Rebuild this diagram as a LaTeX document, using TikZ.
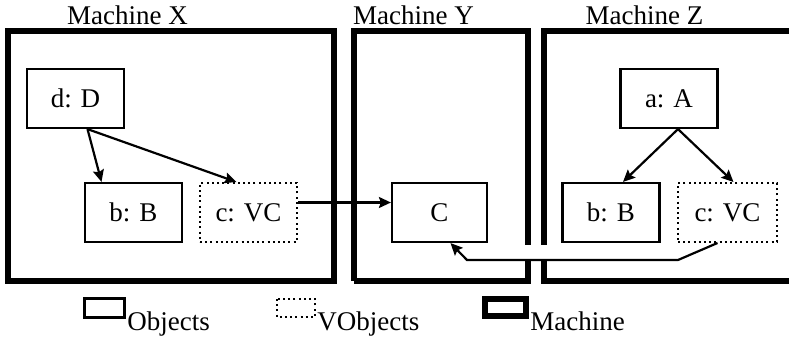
\documentclass[tikz,border=0pt]{standalone}
\usepackage{fontspec}
\setmainfont{Liberation Serif}
\usetikzlibrary{arrows.meta}
\begin{document}
\begin{tikzpicture}[x=0.5pt,y=-0.5pt,
  font=\fontsize{13.5pt}{15pt}\selectfont,
  obj/.style={draw, line width=1.1pt, minimum width=48.5pt, minimum height=29.5pt, inner sep=0pt},
  vobj/.style={obj, line width=1pt, dash pattern=on 1pt off 1.6pt},
  mach/.style={line width=2.6pt},
  conn/.style={line width=1.1pt, -{Stealth[length=6pt,width=5.5pt,inset=1pt]}},
  title/.style={anchor=base, inner sep=0pt},
  legtext/.style={anchor=base west, inner sep=0pt}]
\useasboundingbox (0,0) rectangle (789,337);
% machines
\draw[mach] (8,281) -- (8,31) -- (334,31) -- (334,281) -- cycle;
\draw[mach] (354,281) -- (354,31) -- (528,31) -- (528,245);
\draw[mach] (528,259) -- (528,281) -- (354,281);
\draw[mach] (795,31) -- (544,31) -- (544,245);
\draw[mach] (544,259) -- (544,281) -- (795,281);
\node[title] (tx) at (127.5,25) {Machine X};
\node[title] (ty) at (413.5,25) {Machine Y};
\node[title] (tz) at (644.5,25) {Machine Z};
% objects
\node[obj] (d) at (75.5,98.5) {d: D};
\node[obj] (bx) at (133.5,212.5) {b: B};
\node[vobj] (cx) at (248.5,212.5) {c: VC};
\node[obj, minimum width=47.5pt] (C) at (439.5,212.5) {C};
\node[obj] (a) at (669,98.5) {a: A};
\node[obj] (bz) at (611,212.5) {b: B};
\node[vobj, minimum width=49.5pt] (cz) at (727.5,212.5) {c: VC};
% connectors
\draw[conn] ([xshift=6pt]d.south) -- ([xshift=-16pt]bx.north);
\draw[conn] ([xshift=6pt]d.south) -- ([xshift=-6pt]cx.north);
\draw[conn] ([yshift=5pt]cx.east) -- ([yshift=5pt]C.west);
\draw[conn] ([xshift=4.5pt]a.south) -- ([xshift=6pt]bz.north);
\draw[conn] ([xshift=4.5pt]a.south) -- ([xshift=3pt]cz.north);
\coordinate (k1) at (678,260);
\coordinate (k2) at (467,260);
\draw[conn] ([xshift=-5pt]cz.south) -- (k1) -- (k2) -- ([xshift=5.5pt]C.south);
% legend
\draw[line width=1.5pt] (84,298) rectangle (124,317);
\node[legtext] (lo) at (127,330) {Objects};
\draw[line width=1pt, dash pattern=on 1pt off 1.6pt] (277,299) rectangle (315,317);
\node[legtext] (lv) at (317,330) {VObjects};
\draw[line width=3pt] (485,299) rectangle (526,316);
\node[legtext] (lm) at (530,330) {Machine};
\end{tikzpicture}
\end{document}
